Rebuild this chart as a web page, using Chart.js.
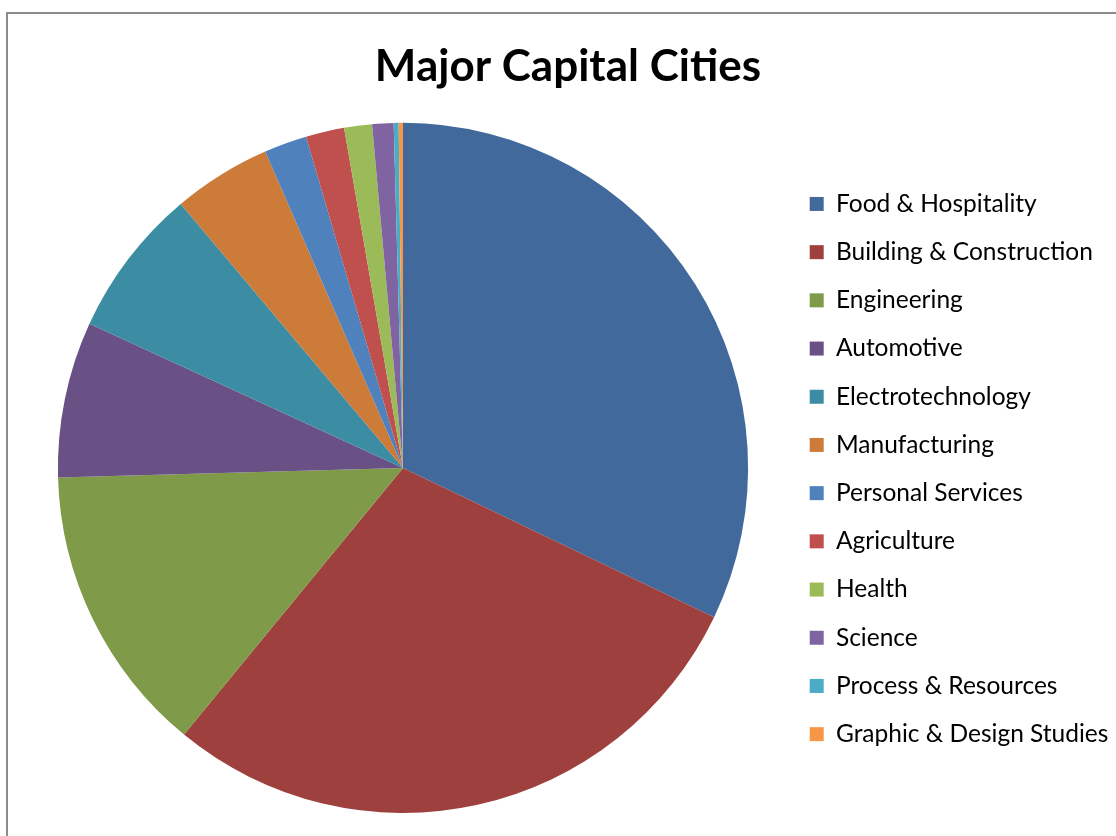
<!DOCTYPE html>
<html>
<head>
<meta charset="utf-8">
<script src="https://cdn.jsdelivr.net/npm/chart.js@4.4.1/dist/chart.umd.min.js"></script>
<style>
  html, body { margin: 0; padding: 0; background: #fff; overflow: hidden; }
  #frame { position: absolute; left: 6px; top: 12px; width: 1200px; height: 900px; border-left: 2px solid #8c8c8c; border-top: 2px solid #8c8c8c; }
  #wrap { position: absolute; left: 0; top: 0; width: 1116px; height: 836px; }
</style>
</head>
<body>
<div id="frame"></div>
<div id="wrap"><canvas id="pieChart"></canvas></div>
<script>
// sectors (percent of total)
const labels = ['Food & Hospitality', 'Building & Construction', 'Engineering', 'Automotive',
  'Electrotechnology', 'Manufacturing', 'Personal Services', 'Agriculture', 'Health',
  'Science', 'Process & Resources', 'Graphic & Design Studies'];
const shares = [32.1, 28.8, 13.6, 7.3, 7.0, 4.6, 2.0, 1.8, 1.3, 1.0, 0.23, 0.2];
const colors = ['#41699c', '#9e413e', '#7f9a48', '#695185', '#3c8da3', '#cc7b38',
  '#4f81bd', '#c0504d', '#9bbb59', '#8064a2', '#4bacc6', '#f79646'];

new Chart(document.getElementById('pieChart'), {
  type: 'pie',
  data: {
    labels: labels,
    datasets: [{ data: shares, backgroundColor: colors, borderWidth: 0, hoverOffset: 0 }]
  },
  options: {
    responsive: true,
    maintainAspectRatio: false,
    animation: false,
    layout: { padding: { left: 20, right: 0, top: 0, bottom: 23 } },
    plugins: {
      title: {
        display: true,
        text: 'Major Capital Cities',
        color: '#000',
        font: { family: 'Lato', size: 44, weight: 'bold', lineHeight: 1.2 },
        padding: { top: 40, bottom: 30 }
      },
      legend: {
        position: 'right',
        align: 'start',
        maxWidth: 330,
        // empty title used only as a spacer above the items
        title: { display: true, text: '', padding: { top: 144, bottom: 0 }, font: { size: 20, lineHeight: 1.2 } },
        labels: {
          color: '#000',
          font: { family: 'Lato', size: 24.5 },
          boxWidth: 14,
          boxHeight: 14,
          padding: 23.7
        }
      },
      tooltip: { enabled: false }
    }
  }
});
</script>
</body>
</html>
